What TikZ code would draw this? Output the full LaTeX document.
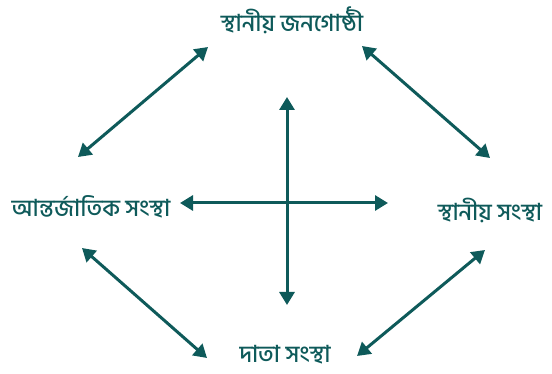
\documentclass[tikz,border=0pt]{standalone}
\usepackage{fontspec}
\usepackage{xcolor}
\usetikzlibrary{arrows.meta}
\newfontfamily\bnfont[Script=Bengali,UprightFont=* Medium]{Hind Siliguri}
\definecolor{Teal}{RGB}{14,90,90}

\begin{document}
\begin{tikzpicture}[
    x=1pt, y=-1pt,
    Teal,
    line width=3pt,
    >={Triangle[length=13pt,width=15pt]},
    font=\bnfont\fontsize{23.5}{24}\selectfont,
    label/.style={text=Teal, inner sep=0pt}
]
  \useasboundingbox (0,0) rectangle (552,374);

  % the four groups
  \node[label] (local) at (292,20) {স্থানীয় জনগোষ্ঠী};
  \node[label] (intl)  at (91,207) {আন্তর্জাতিক সংস্থা};
  \node[label] (org)   at (490,210) {স্থানীয় সংস্থা};
  \node[label] (donor) at (285,355) {দাতা সংস্থা};

  % arrow ends
  \coordinate (tl1) at (78,157);  \coordinate (tl2) at (208,47);
  \coordinate (tr1) at (362,46);  \coordinate (tr2) at (490,158);
  \coordinate (bl1) at (82,248);  \coordinate (bl2) at (207,358);
  \coordinate (br1) at (485,250); \coordinate (br2) at (357,356);
  \coordinate (up)   at (287,97);  \coordinate (down)  at (287,305);
  \coordinate (left) at (180,203); \coordinate (right) at (388,203);

  \draw[<->] (tl1) -- (tl2);
  \draw[<->] (tr1) -- (tr2);
  \draw[<->] (bl1) -- (bl2);
  \draw[<->] (br1) -- (br2);

  \draw[<->] (up) -- (down);
  \draw[<->] (left) -- (right);
\end{tikzpicture}
\end{document}
